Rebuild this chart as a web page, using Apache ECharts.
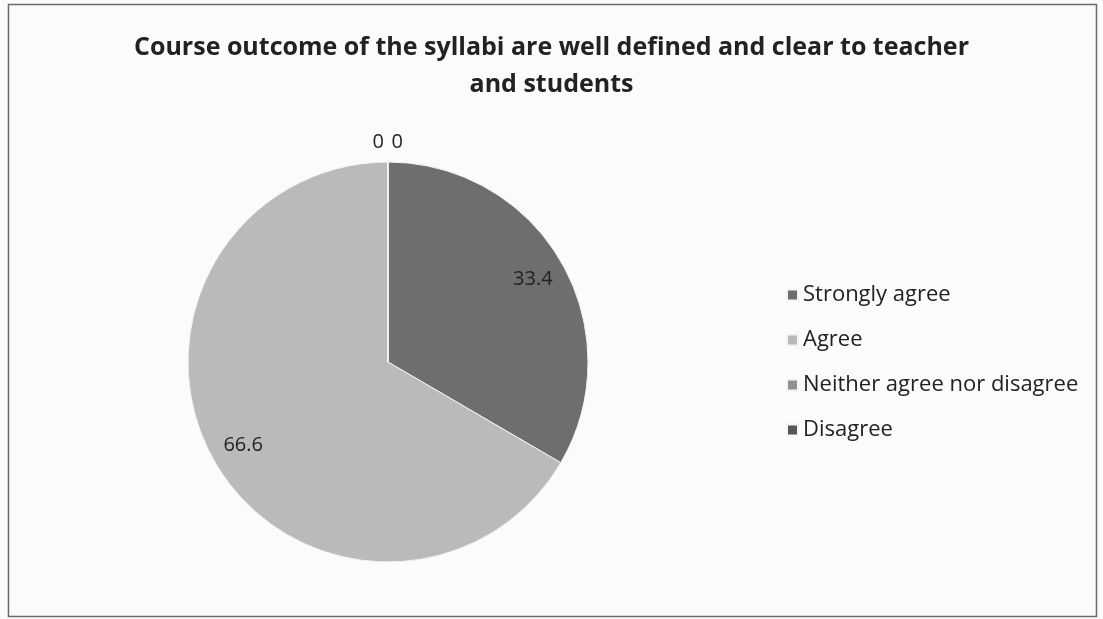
<!DOCTYPE html>
<html>
<head>
<meta charset="utf-8">
<script src="https://cdn.jsdelivr.net/npm/echarts@6/dist/echarts.min.js"></script>
<style>
html,body{margin:0;padding:0;background:#fbfbfc;}
#c{width:1103px;height:619px;}
</style>
</head>
<body>
<div id="c"></div>
<script>
const titleText = 'Course outcome of the syllabi are well defined and clear to teacher\nand students';
const categories = ['Strongly agree', 'Agree', 'Neither agree nor disagree', 'Disagree'];
const values = [33.4, 66.6, 0, 0];
const colors = ['#6e6e6e', '#bababa', '#909090', '#575757'];

const FONT = '"Open Sans", sans-serif';
const R = 200;
const CENTER = [388, 362];

const chart = echarts.init(document.getElementById('c'));

const zeroOffsets = { 2: [1, -20], 3: [20, -20] };

const mainData = categories.map((name, i) => {
  const item = { name, value: values[i], itemStyle: { color: colors[i] } };
  if (values[i] === 0) {
    item.label = {
      show: true, position: 'outside', formatter: '{c}', color: '#222', fontSize: 20, fontFamily: FONT,
      offset: zeroOffsets[i]
    };
    item.labelLine = { show: false, length: 0, length2: 0 };
  }
  return item;
});

const labelData = categories.map((name, i) => ({
  name, value: values[i],
  label: { show: values[i] !== 0 }
}));

chart.setOption({
  backgroundColor: '#fbfbfc',
  animation: false,
  title: {
    text: titleText,
    left: 'center',
    top: 24,
    textStyle: {
      fontFamily: FONT, fontWeight: 'bold', fontSize: 25, color: '#222',
      lineHeight: 37
    }
  },
  legend: {
    orient: 'vertical',
    left: 781,
    top: 279,
    icon: 'rect',
    itemWidth: 11,
    itemHeight: 11,
    itemGap: 23,
    data: categories,
    textStyle: { fontFamily: FONT, fontSize: 22, color: '#222' },
    selectedMode: false
  },
  graphic: [{
    type: 'rect',
    shape: { x: 8.5, y: 4.5, width: 1088, height: 612 },
    style: { fill: 'none', stroke: '#6a6a6a', lineWidth: 1.5 },
    silent: true
  }],
  series: [{
    type: 'pie',
    center: CENTER,
    radius: R,
    startAngle: 90,
    clockwise: true,
    avoidLabelOverlap: false,
    labelLayout: { hideOverlap: false },
    label: { show: false },
    labelLine: { show: false },
    itemStyle: { borderColor: '#f4f4f4', borderWidth: 1 },
    emphasis: { disabled: true },
    data: mainData
  }, {
    type: 'pie',
    center: CENTER,
    radius: [R * 0.64, R],
    startAngle: 90,
    clockwise: true,
    silent: true,
    avoidLabelOverlap: false,
    itemStyle: { color: 'rgba(0,0,0,0)' },
    label: { position: 'inside', formatter: '{c}', color: '#222', fontSize: 20, fontFamily: FONT },
    labelLine: { show: false },
    emphasis: { disabled: true },
    legendHoverLink: false,
    data: labelData
  }]
});
</script>
</body>
</html>
